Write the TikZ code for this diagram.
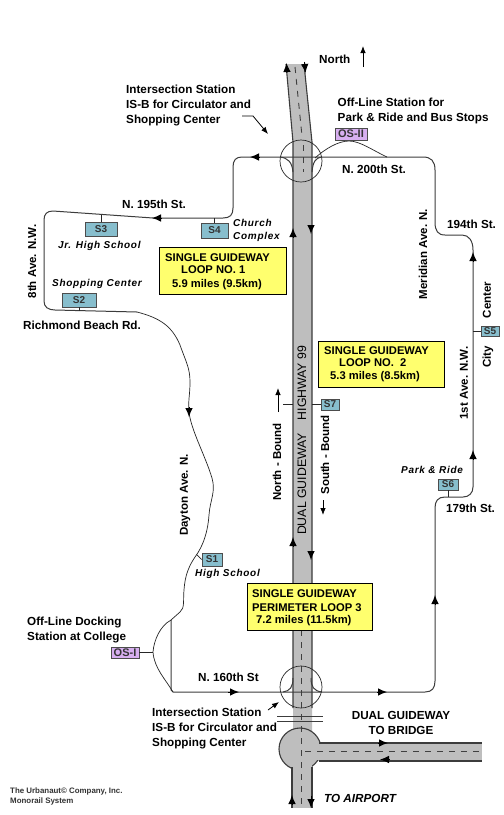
\documentclass[tikz,border=0pt]{standalone}
\usepackage{fontspec}
\setmainfont{Liberation Sans}
\newfontfamily\placefont[LetterSpace=7]{Liberation Sans}
\usetikzlibrary{arrows.meta}
\definecolor{roadgray}{RGB}{190,190,190}
\definecolor{linegray}{RGB}{60,60,60}
\definecolor{stationblue}{RGB}{135,190,205}
\definecolor{offlinepurple}{RGB}{215,175,240}
\definecolor{loopyellow}{RGB}{255,255,110}
\tikzset{
  roadfill/.style  = {fill=roadgray, draw=none},
  roadedge/.style  = {draw=linegray, line width=1.1pt},
  guideway/.style  = {draw=linegray, line width=1.0pt},
  thinway/.style   = {draw=black!85, line width=0.7pt},
  centerline/.style= {draw=black!75, line width=0.9pt, dash pattern=on 6pt off 6pt},
  dirarr/.style    = {-{Latex[length=9pt,width=7.5pt]}, draw=black, line width=0.9pt},
  ptrarr/.style    = {-{Latex[length=7pt,width=5.5pt]}, black, line width=0.8pt},
  labeltext/.style = {font=\fontsize{11.7}{15}\selectfont\bfseries, align=left, anchor=west, inner sep=0pt},
  roadtext/.style  = {font=\fontsize{12.3}{13}\selectfont, inner sep=0pt, rotate=90},
  sidetext/.style  = {font=\fontsize{11.5}{13}\selectfont\bfseries, inner sep=0pt, rotate=90},
  placetext/.style = {font=\fontsize{10}{13}\placefont\bfseries\itshape, align=left, anchor=west, inner sep=0pt},
  stationbox/.style= {draw=black!70, fill=stationblue, line width=0.8pt, inner sep=0pt,
                      font=\fontsize{10}{10}\selectfont\bfseries, text=black!80},
  offlinebox/.style= {draw=black!70, fill=offlinepurple, line width=0.8pt, inner sep=0pt,
                      font=\fontsize{11}{11}\selectfont\bfseries, text=black!80},
  loopbox/.style   = {draw=black, fill=loopyellow, line width=0.7pt},
  looptext/.style  = {font=\fontsize{11.2}{12}\selectfont\bfseries, inner sep=0pt, anchor=west}
}
\begin{document}
\begin{tikzpicture}[x=1pt,y=-1pt]
  \useasboundingbox[fill=white] (0,0) rectangle (504,815);
  % highway and the road to the bridge
  \fill[roadfill] (286,64) -- (304,64) -- (312,142) -- (312,738) -- (293,738) -- (293,142) -- cycle;
  \fill[roadfill] (292,760) rectangle (312,808);
  \fill[roadfill] (310,743) rectangle (482,761);
  \filldraw[roadfill,roadedge,draw=linegray] (300,749) circle (21);
  \fill[roadfill] (292,760) rectangle (312,775);
  \fill[roadfill] (310,743.6) rectangle (325,760.4);
  \draw[roadedge] (286,64) -- (293,142) -- (293,708);
  \draw[roadedge] (304,64) -- (312,142) -- (312,708);
  \draw[roadedge] (292,767) -- (292,808);
  \draw[roadedge] (312,767) -- (312,808);
  \draw[roadedge] (319,743) -- (482,743);
  \draw[roadedge] (319,761) -- (482,761);
  % centre dashes
  \draw[centerline] (295,67) -- (302,136);
  \draw[centerline] (303,145) -- (303,172);
  \draw[centerline] (301,630) -- (301,808);
  \draw[centerline] (305,751) -- (484,751);
  % the crossing bars
  \coordinate (barWa) at (277,716);
  \coordinate (barEa) at (323,716);
  \coordinate (barWb) at (277,721);
  \coordinate (barEb) at (323,721);
  \draw[guideway] (barWa) -- (barEa);
  \draw[guideway] (barWb) -- (barEb);
  % the intersection rings
  \coordinate (ringN) at (301,161);
  \coordinate (ringS) at (301,687);
  \draw[thinway] (ringN) circle (21);
  \draw[thinway] (ringS) circle (21);
  \draw[guideway] (293,172) .. controls (292,162) and (288,158) .. (280,157);
  \draw[guideway] (312,172) .. controls (313,162) and (315,158) .. (322,157);
  \draw[guideway] (293,678) .. controls (293,687) and (290,691) .. (283,692);
  \draw[guideway] (311,678) .. controls (311,687) and (314,691) .. (322,692);
  % single guideway, all the way round
  \draw[guideway] (435,170) .. controls (435,161) and (431,157) .. (423,157)
     -- (242,157) .. controls (236,157) and (233,160) .. (233,167)
     -- (233,208) .. controls (233,215) and (230,218) .. (223,218)
     -- (153,218) -- (53,211) .. controls (47,211) and (44,214) .. (44,220)
     -- (44,301) .. controls (44,307) and (48,310) .. (55,310)
     -- (137,312);
  \draw[guideway] (435,170) -- (435,222) .. controls (435,231) and (438,235) .. (445,235)
     -- (462,235) .. controls (469,235) and (473,241) .. (473,250)
     -- (473,487) .. controls (473,493) and (469,497) .. (463,497)
     -- (445,497) .. controls (438,497) and (435,501) .. (435,508)
     -- (435,681) .. controls (435,688) and (432,692) .. (425,692)
     -- (173,692) -- (171,690) -- (171,620);
  \draw[thinway] (137,312) .. controls (160,318) and (172,326) .. (180,345)
     .. controls (186,362) and (190,368) .. (190,382)
     .. controls (190,395) and (188,400) .. (189,412)
     .. controls (191,430) and (205,455) .. (212,478)
     .. controls (216,492) and (210,500) .. (209,515)
     .. controls (208,530) and (204,545) .. (195,557)
     .. controls (189,566) and (185,575) .. (184,590)
     .. controls (183,600) and (185,608) .. (180,612)
     -- (171,620);
  % off-line sidings
  \draw[thinway] (171,620) .. controls (160,626) and (154,640) .. (153,652)
     .. controls (154,668) and (166,680) .. (173,692);
  \draw[thinway] (315,158) .. controls (325,149) and (338,141) .. (349,141)
     .. controls (360,141) and (372,150) .. (387,157);
  % direction arrows
  \foreach \px/\py/\dx/\dy in {161/218/152/218, 259/157/250/157, 189/407/189/417,
      473/262/473/252, 473/459/473/450, 435/605/435/595, 228/692/239/692, 377/692/387/692,
      287/73/286.5/63, 304.5/62/305.5/73, 293/237/293/228, 311/225/311/234, 293/546/293/537,
      311/551/311/560, 378/743/388/743, 389/759.5/380/759.5, 292/805/292/795, 311/796/311/808}{
    \draw[dirarr] (\px,\py) -- (\dx,\dy);
  }
  % stations
  \node[stationbox,minimum width=27pt,minimum height=15pt] (S4) at (214.5,230.5) {S4};
  \node[stationbox,minimum width=32pt,minimum height=14pt] (S3) at (101,229) {S3};
  \node[stationbox,minimum width=34pt,minimum height=14pt] (S2) at (79,300) {S2};
  \node[stationbox,minimum width=20pt,minimum height=13pt] (S1) at (212,559.5) {S1};
  \node[stationbox,minimum width=18pt,minimum height=10pt] (S5) at (490,331) {S5};
  \node[stationbox,minimum width=20pt,minimum height=11pt] (S6) at (448,484.5) {S6};
  \node[stationbox,minimum width=18pt,minimum height=11pt] (S7) at (330,404.5) {S7};
  \node[offlinebox,minimum width=32pt,minimum height=12pt] (OSII) at (351,134) {OS-II};
  \node[offlinebox,minimum width=28pt,minimum height=11pt] (OSI) at (125,652.5) {OS-I};
  \draw[thinway] (S4.north) -- ++(0,-5);
  \draw[thinway] (S3.north) -- ++(0,-7);
  \draw[thinway] (S2.south) -- ++(0,4);
  \draw[thinway] (S1.west) -- ++(-5,-5);
  \draw[thinway] (S5.west) -- ++(-8,0);
  \draw[thinway] (S6.south) -- ++(0,7);
  \draw[thinway] (S7.west) -- ++(-9,0);
  \draw[thinway] (OSI.east) -- ++(14,0);
  \coordinate (stubW) at (283,404.5);
  \coordinate (stubE) at (293,404.5);
  \draw[thinway] (stubW) -- (stubE);
  % yellow boxes
  \node[loopbox,minimum width=127pt,minimum height=47pt] (loopA) at (222.5,270.5) {};
  \node[loopbox,minimum width=126pt,minimum height=46pt] (loopB) at (381,364) {};
  \node[loopbox,minimum width=125pt,minimum height=47pt] (loopC) at (309.5,606.5) {};
  \node[looptext] (loopAa) at (165,258) {SINGLE GUIDEWAY};
  \node[looptext] (loopAb) at (181,270) {LOOP NO. 1};
  \node[looptext] (loopAc) at (172,285) {5.9 miles (9.5km)};
  \node[looptext] (loopBa) at (324,351) {SINGLE GUIDEWAY};
  \node[looptext] (loopBb) at (339,362.5) {LOOP NO.~ 2};
  \node[looptext] (loopBc) at (330,377) {5.3 miles (8.5km)};
  \node[looptext] (loopCa) at (252,593.5) {SINGLE GUIDEWAY};
  \node[looptext] (loopCb) at (252,607.5) {PERIMETER LOOP 3};
  \node[looptext] (loopCc) at (256,621) {7.2 miles (11.5km)};
  % labels
  \node[labeltext] (northL) at (319,59) {North};
  \coordinate (northA) at (363,67);
  \coordinate (northB) at (363,46);
  \draw[ptrarr] (northA) -- (northB);
  \node[labeltext] (isbN) at (126,105) {Intersection Station\\IS-B for Circulator and\\Shopping Center};
  \node[labeltext] (offII) at (337.5,110.5) {Off-Line Station for\\Park \& Ride and Bus Stops};
  \node[labeltext] (st200) at (342,169) {N. 200th St.};
  \node[labeltext] (st195) at (122,204) {N. 195th St.};
  \node[labeltext] (st194) at (447,224) {194th St.};
  \node[labeltext] (st179) at (446,508) {179th St.};
  \node[labeltext] (st160) at (198,677) {N. 160th St};
  \node[labeltext] (richB) at (23,325) {Richmond Beach Rd.};
  \node[labeltext] (offI) at (27,629.5) {Off-Line Docking\\Station at College};
  \node[labeltext] (isbS) at (152,728) {Intersection Station\\IS-B for Circulator and\\Shopping Center};
  \node[labeltext,align=center,anchor=center] (toBridge) at (401,722.5) {DUAL GUIDEWAY\\TO BRIDGE};
  \node[font=\fontsize{11.7}{13}\selectfont\bfseries\itshape,inner sep=0pt,anchor=west] (toAirport) at (324,798) {TO AIRPORT};
  \node[font=\fontsize{7.9}{9.5}\selectfont\bfseries,align=left,anchor=west,inner sep=0pt,text=black!80] (company) at (10,796.5) {The Urbanaut© Company, Inc.\\Monorail System};
  \node[sidetext] (ave8) at (32,261.5) {8th Ave. N.W.};
  \node[sidetext] (daytn) at (185,495) {Dayton Ave. N.};
  \node[sidetext] (merid) at (423,254) {Meridian Ave. N.};
  \node[sidetext] (ave1) at (464,383) {1st Ave. N.W.};
  \node[sidetext] (center) at (487,300) {Center};
  \node[sidetext] (city) at (488,357) {City};
  \node[roadtext] (dualG) at (302,484) {DUAL GUIDEWAY};
  \node[roadtext] (hwy) at (302,383) {HIGHWAY 99};
  \node[sidetext] (nbound) at (277,462) {North - Bound};
  \node[sidetext] (sbound) at (325,455) {South - Bound};
  \coordinate (nbA) at (278,412);
  \coordinate (nbB) at (278,388);
  \coordinate (sbA) at (323,500);
  \coordinate (sbB) at (323,515);
  \draw[ptrarr] (nbA) -- (nbB);
  \draw[ptrarr] (sbA) -- (sbB);
  % small pointers
  \coordinate (ptNa) at (242,116);
  \coordinate (ptNb) at (253,116);
  \coordinate (ptNc) at (268,134);
  \draw[ptrarr] (ptNa) -- (ptNb) -- (ptNc);
  \coordinate (ptSa) at (268,710);
  \coordinate (ptSb) at (279,702);
  \draw[ptrarr] (ptSa) -- (ptSb);
  % place names
  \node[placetext] (jrH) at (58,246) {Jr. High School};
  \node[placetext] (shopC) at (52,284) {Shopping Center};
  \node[placetext] (church) at (233,230.5) {Church\\Complex};
  \node[placetext] (parkR) at (401,470) {Park \& Ride};
  \node[placetext] (highS) at (195,574) {High School};
\end{tikzpicture}
\end{document}
